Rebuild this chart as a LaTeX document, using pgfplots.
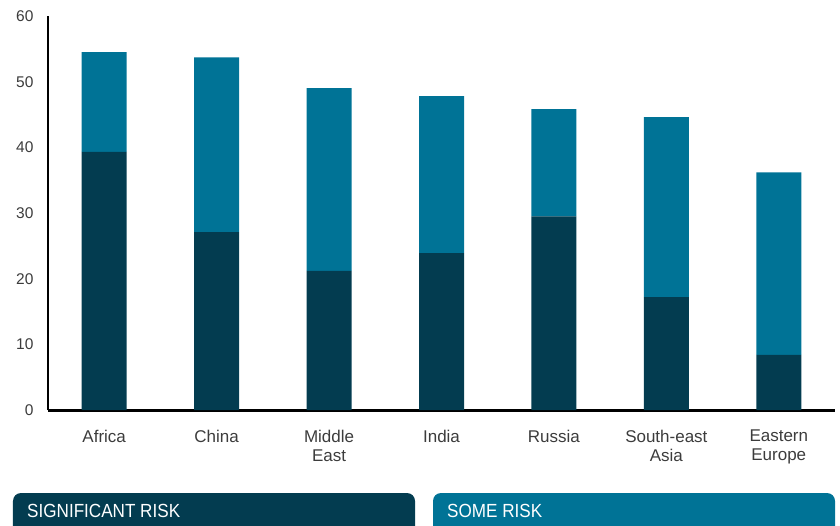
\documentclass[border=0pt]{standalone}
\usepackage{fontspec}
\setmainfont{Liberation Sans}
\newfontfamily\condfont[FakeStretch=0.9]{Liberation Sans}
\usepackage{pgfplots}
\pgfplotsset{compat=1.18}
\definecolor{sigc}{RGB}{3,60,80}
\definecolor{somec}{RGB}{0,115,150}
\definecolor{tickc}{RGB}{60,60,60}
\begin{document}
\begin{tikzpicture}[x=1pt,y=1pt]
\path[use as bounding box] (-48,-115) rectangle (792,410);
\begin{axis}[
  at={(0,0)}, anchor=south west,
  scale only axis, width=787pt, height=394pt,
  xmin=-0.5, xmax=6.5, ymin=0, ymax=60,
  ybar stacked, bar width=45pt,
  axis x line=bottom, axis y line=left,
  axis line style={-},
  x axis line style={line width=3pt},
  y axis line style={line width=2.2pt},
  major tick length=0pt,
  xtick={0,...,6},
  xticklabels={Africa, China, Middle\\East, India, Russia, South-east\\Asia, Eastern\\Europe},
  ytick={0,10,...,60},
  xticklabel style={align=center, font=\fontsize{17}{19}\selectfont, text=tickc, yshift=-16.5pt},
  yticklabel style={font=\fontsize{15.5}{16}\selectfont, text=tickc, xshift=-11pt},
  /pgf/number format/assume math mode=true,
]
\addplot[fill=sigc, draw=none] coordinates {(0,39.3) (1,27.1) (2,21.2) (3,23.9) (4,29.5) (5,17.2) (6,8.4)};
\addplot[fill=somec, draw=none] coordinates {(0,15.2) (1,26.6) (2,27.8) (3,23.9) (4,16.3) (5,27.4) (6,27.8)};
\end{axis}
\begin{scope}
\clip (-48,-115) rectangle (792,-80);
\fill[sigc, rounded corners=8pt] (-35,-130) rectangle (367,-83);
\fill[somec, rounded corners=8pt] (385,-130) rectangle (787,-83);
\end{scope}
\node[anchor=west, text=white, font=\condfont\fontsize{19}{20}\selectfont, inner sep=0pt] at (-21,-100.5) {SIGNIFICANT RISK};
\node[anchor=west, text=white, font=\condfont\fontsize{19}{20}\selectfont, inner sep=0pt] at (399,-100.5) {SOME RISK};
\end{tikzpicture}
\end{document}
